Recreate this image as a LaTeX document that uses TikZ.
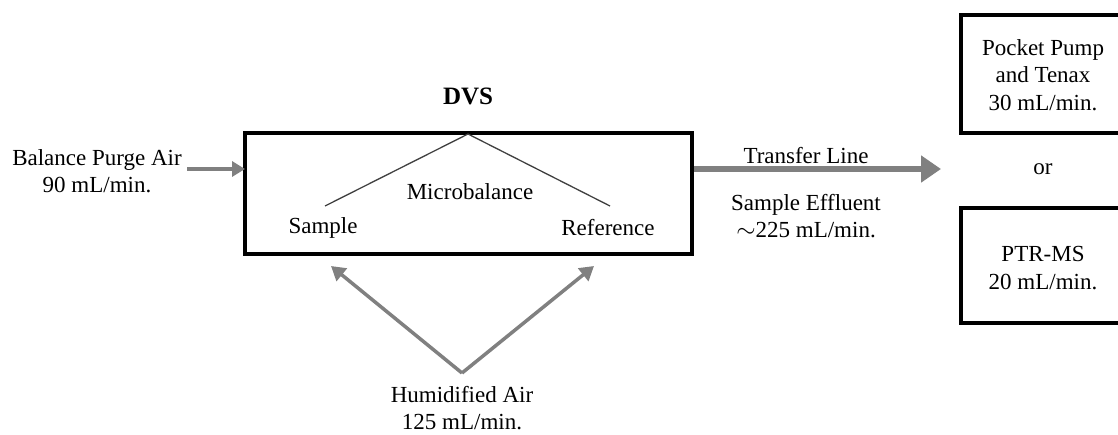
\documentclass[tikz,border=0pt]{standalone}
\usepackage{fontspec}
\setmainfont{Liberation Serif}
\usetikzlibrary{arrows.meta}
\definecolor{arrowgray}{HTML}{808080}
\definecolor{linegray}{HTML}{404040}
\begin{document}
\begin{tikzpicture}[x=1pt,y=-1pt,
  txt/.style={align=center,inner sep=0pt,font=\fontsize{23}{27.5}\selectfont},
  boxnode/.style={draw=black,line width=4pt,inner sep=0pt},
  thinarrow/.style={draw=arrowgray,line width=3.2pt,-{Triangle[length=13pt,width=15pt]}},
  humarrow/.style={draw=arrowgray,line width=3.5pt,-{Triangle[length=14pt,width=16pt]}},
  bigarrow/.style={draw=arrowgray,line width=6pt,-{Triangle[length=20pt,width=26pt]}},
  beam/.style={draw=linegray,line width=1.3pt}]
\useasboundingbox (0,0) rectangle (1118,434);
\begin{scope}
\clip (0,0) rectangle (1118,434);
% DVS box
\node[boxnode,minimum width=447pt,minimum height=121pt] (dvs) at (468.5,193) {};
\node[txt,font=\fontsize{25}{28}\selectfont\bfseries] (dvslabel) at (468,96) {DVS};
% microbalance beam
\coordinate (apex) at (468,134);
\coordinate (sbeam) at (325,206);
\coordinate (rbeam) at (610,206);
\draw[beam] (sbeam) -- (apex) -- (rbeam);
\node[txt] (micro) at (470,192) {Microbalance};
\node[txt] (sample) at (323,228) {Sample};
\node[txt] (ref) at (608,228) {Reference};
% purge air
\node[txt] (purge) at (97,171) {Balance Purge Air\\90 mL/min.};
\coordinate (purgeS) at (187,169);
\coordinate (purgeE) at (245,169);
\draw[thinarrow] (purgeS) -- (purgeE);
% transfer line
\coordinate (trS) at (694,169);
\coordinate (trE) at (941,169);
\draw[bigarrow] (trS) -- (trE);
\node[txt] (transfer) at (806,156) {Transfer Line};
\node[txt] (effluent) at (806,216) {Sample Effluent\\$\sim$225 mL/min.};
% humidified air
\coordinate (hum) at (462,373);
\coordinate (humL) at (331,266);
\coordinate (humR) at (594,266);
\draw[humarrow] (hum) -- (humL);
\draw[humarrow] (hum) -- (humR);
\node[txt] (humtxt) at (462,408) {Humidified Air\\125 mL/min.};
% right boxes
\draw[black,line width=4pt] (1140,15) -- (961,15) -- (961,133) -- (1140,133);
\draw[black,line width=4pt] (1140,208) -- (961,208) -- (961,323) -- (1140,323);
\node[txt] (pocket) at (1043,75) {Pocket Pump\\and Tenax\\30 mL/min.};
\node[txt] (or) at (1043,169) {or};
\node[txt] (ptr) at (1043,268) {PTR-MS\\20 mL/min.};
\end{scope}
\end{tikzpicture}
\end{document}
